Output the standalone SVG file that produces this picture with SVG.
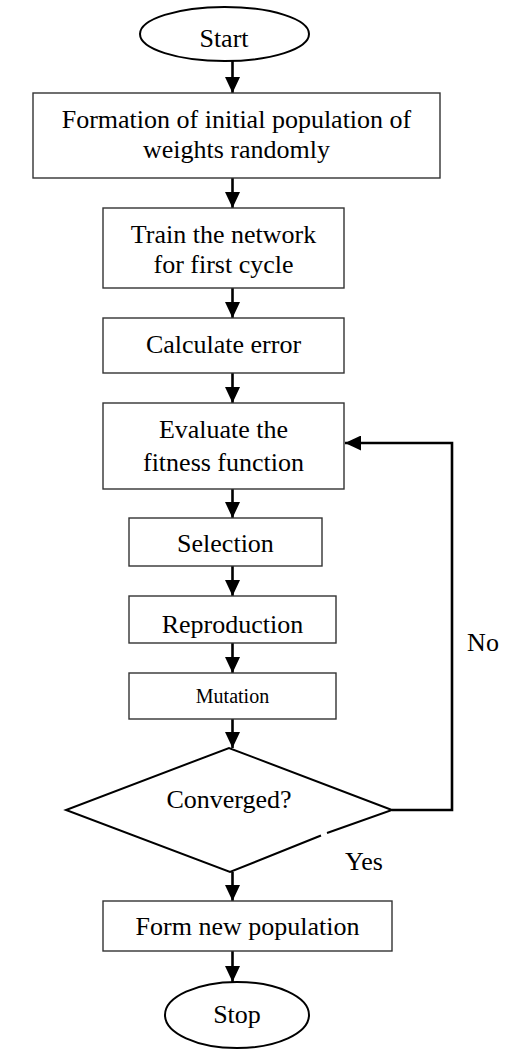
<svg xmlns="http://www.w3.org/2000/svg" width="527" height="1049" viewBox="0 0 527 1049">
<defs>
<marker id="ah" markerWidth="16" markerHeight="15" refX="16" refY="7.5" orient="auto" markerUnits="userSpaceOnUse">
<path d="M0,0 L16,7.5 L0,15 Z" fill="#000"/>
</marker>
<style>
.b{fill:#fff;stroke:#333;stroke-width:1.4}
.e{fill:#fff;stroke:#000;stroke-width:2}
.t{font-family:"Liberation Serif","Times New Roman",serif;font-size:26px;fill:#000;text-anchor:middle}
.s{font-size:20px}
.c{fill:none;stroke:#000;stroke-width:2.6}
</style>
</defs>
<rect width="527" height="1049" fill="#fff"/>
<g id="connectors">
<line class="c" x1="232.5" y1="61" x2="232.5" y2="93" marker-end="url(#ah)"/>
<line class="c" x1="232.5" y1="178" x2="232.5" y2="208" marker-end="url(#ah)"/>
<line class="c" x1="232.5" y1="288" x2="232.5" y2="318" marker-end="url(#ah)"/>
<line class="c" x1="232.5" y1="373" x2="232.5" y2="403" marker-end="url(#ah)"/>
<line class="c" x1="232.5" y1="489" x2="232.5" y2="518" marker-end="url(#ah)"/>
<line class="c" x1="232.5" y1="566" x2="232.5" y2="596" marker-end="url(#ah)"/>
<line class="c" x1="232.5" y1="643" x2="232.5" y2="673" marker-end="url(#ah)"/>
<line class="c" x1="232.5" y1="719" x2="232.5" y2="748" marker-end="url(#ah)"/>
<line class="c" x1="232.5" y1="872" x2="232.5" y2="901" marker-end="url(#ah)"/>
<line class="c" x1="232.5" y1="951" x2="232.5" y2="982" marker-end="url(#ah)"/>
<path class="c" d="M392,810 H452 V443 H345" marker-end="url(#ah)"/>
</g>
<g id="start">
<ellipse class="e" cx="224.5" cy="34" rx="84.5" ry="27"/>
<text class="t" x="224" y="47">Start</text>
</g>
<g id="init">
<rect class="b" x="33" y="93" width="407" height="85"/>
<text class="t" x="236.5" y="128">Formation of initial population of</text>
<text class="t" x="236.5" y="158">weights randomly</text>
</g>
<g id="train">
<rect class="b" x="103" y="208" width="241" height="80"/>
<text class="t" x="223.5" y="243">Train the network</text>
<text class="t" x="223.5" y="273">for first cycle</text>
</g>
<g id="calc">
<rect class="b" x="103" y="318" width="241" height="55"/>
<text class="t" x="223.5" y="353">Calculate error</text>
</g>
<g id="evaluate">
<rect class="b" x="103" y="403" width="241" height="86"/>
<text class="t" x="223.5" y="438">Evaluate the</text>
<text class="t" x="223.5" y="471">fitness function</text>
</g>
<g id="selection">
<rect class="b" x="129" y="518" width="193" height="48"/>
<text class="t" x="225.5" y="552">Selection</text>
</g>
<g id="reproduction">
<rect class="b" x="129" y="596" width="207" height="47"/>
<text class="t" x="232.5" y="633">Reproduction</text>
</g>
<g id="mutation">
<rect class="b" x="129" y="673" width="207" height="46"/>
<text class="t s" x="232.5" y="703">Mutation</text>
</g>
<g id="converged">
<path fill="#fff" stroke="none" d="M229,748 L392,810 L230,872 L66,810 Z"/>
<path fill="none" stroke="#000" stroke-width="2" d="M321,835.5 L230,872 L66,810 L229,748 L392,810 L327,833"/>
<text class="t" x="229" y="808">Converged?</text>
</g>
<g id="newpop">
<rect class="b" x="103" y="901" width="289" height="50"/>
<text class="t" x="247.5" y="935">Form new population</text>
</g>
<g id="stop">
<ellipse class="e" cx="237" cy="1015" rx="72" ry="33"/>
<text class="t" x="237" y="1023">Stop</text>
</g>
<g id="labels">
<text class="t" x="364" y="870">Yes</text>
<text class="t" x="483" y="651">No</text>
</g>
</svg>
